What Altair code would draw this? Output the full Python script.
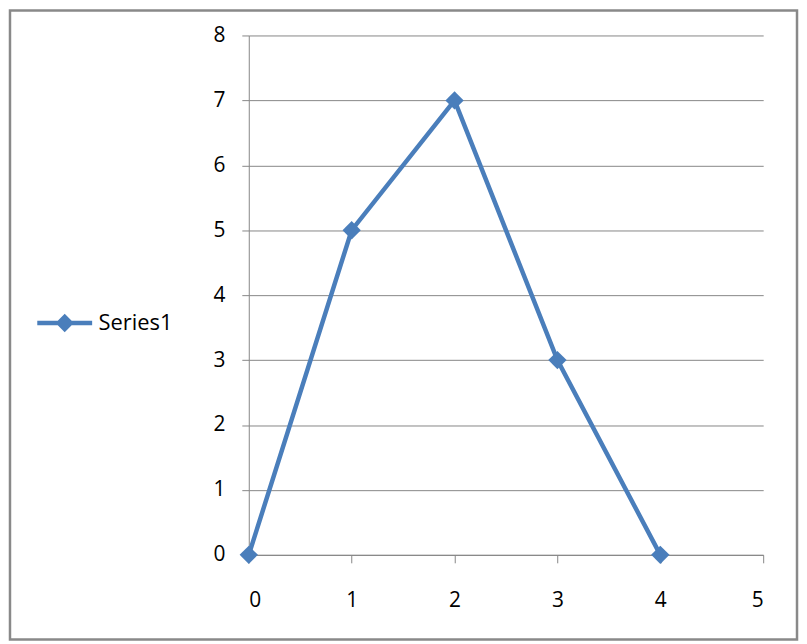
import altair as alt
import pandas as pd

x_values = [0, 1, 2, 3, 4]
y_values = [0, 5, 7, 3, 0]
series_names = ["Series1"] * 5
x_ticks = [0, 1, 2, 3, 4, 5]
y_ticks = [0, 1, 2, 3, 4, 5, 6, 7, 8]

df = pd.DataFrame({"x": x_values, "y": y_values, "series": series_names})

BLUE = "#4a7ebb"
GRAY = "#868686"
FONT = "Open Sans"

legend_path = ("M-3,-0.24L-0.76,-0.24L0,-1L0.76,-0.24L3,-0.24L3,0.24"
               "L0.76,0.24L0,1L-0.76,0.24L-3,0.24Z")

color = alt.Color(
    "series:N",
    scale=alt.Scale(domain=["Series1"], range=[BLUE]),
    legend=alt.Legend(
        title=None, orient="none", legendX=-196, legendY=278,
        symbolType=legend_path, symbolSize=338, symbolFillColor=BLUE,
        symbolStrokeWidth=0, symbolOpacity=1,
        labelFont=FONT, labelFontSize=22, labelColor="black",
        labelOffset=23, padding=0,
    ),
)

xenc = alt.X("x:Q", scale=alt.Scale(domain=[0, 5], nice=False),
             axis=alt.Axis(values=x_ticks, title=None, grid=False, tickSize=8,
                           labelPadding=27, domainColor=GRAY, tickColor=GRAY,
                           labelFont=FONT, labelFontSize=21, labelColor="black",
                           format="d"))
yenc = alt.Y("y:Q", scale=alt.Scale(domain=[0, 8], nice=False),
             axis=alt.Axis(values=y_ticks, title=None, grid=True, gridColor=GRAY,
                           tickSize=7, labelPadding=17, domainColor=GRAY,
                           tickColor=GRAY, labelFont=FONT, labelFontSize=21,
                           labelColor="black", format="d"))

base = alt.Chart(df)
line = base.mark_line(strokeWidth=4.5).encode(x=xenc, y=yenc, color=color)
pts = base.mark_point(shape="diamond", size=340, filled=True, opacity=1).encode(
    x=xenc, y=yenc, color=color)

frame = alt.Chart(pd.DataFrame({"f": [0]})).mark_rect(
    filled=False, stroke="#898989", strokeWidth=2.5).encode(
    x=alt.value(-240), x2=alt.value(551), y=alt.value(-25), y2=alt.value(607))

chart = alt.layer(frame, line, pts).properties(
    width=517, height=522,
    autosize=alt.AutoSizeParams(type="none"),
    padding={"left": 242, "top": 26, "right": 36, "bottom": 87},
).configure_view(stroke=None)

chart.save("out.html", embed_options={"renderer": "svg", "actions": False})
